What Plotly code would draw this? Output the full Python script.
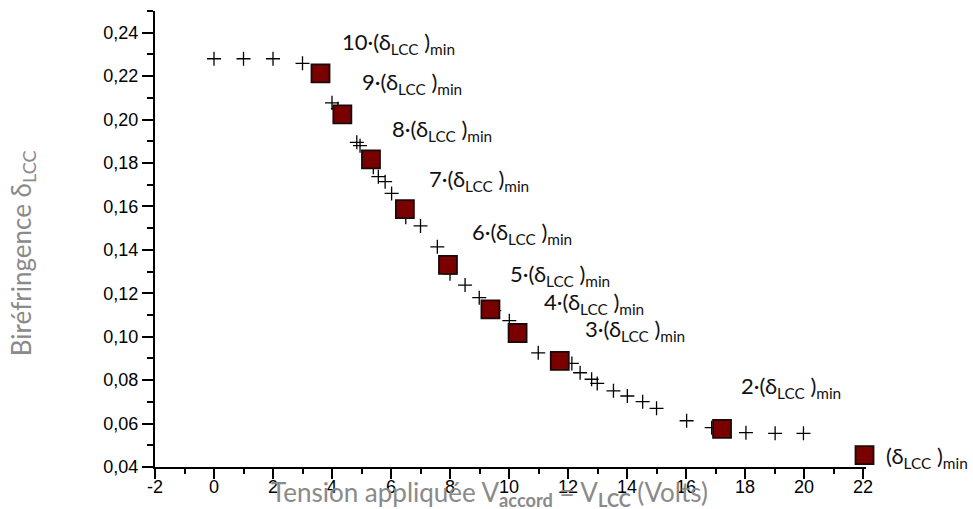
import plotly.graph_objects as go

# Measured birefringence versus applied voltage
v_meas = [0, 1, 2, 3, 4.0, 4.2, 4.84, 4.95, 5.4, 5.57, 5.8, 6.02, 6.5, 7.0, 7.57, 8.0,
          8.51, 8.99, 9.5, 10.01, 10.99, 12.13, 12.41, 12.8, 12.99, 13.54, 14.01,
          14.53, 15.0, 16.02, 16.87, 18.03, 19.02, 19.98]
d_meas = [0.228, 0.228, 0.228, 0.2259, 0.2077, 0.205, 0.1895, 0.188, 0.178, 0.1737,
          0.1714, 0.166, 0.155, 0.151, 0.1414, 0.129, 0.1238, 0.118, 0.112, 0.1074,
          0.0926, 0.0877, 0.0834, 0.0804, 0.0785, 0.0751, 0.0727, 0.0701, 0.067,
          0.0613, 0.0581, 0.0558, 0.0555, 0.0555]

# Tuning points: multiples of the minimal birefringence
v_acc = [3.61, 4.35, 5.32, 6.47, 7.93, 9.37, 10.29, 11.72, 17.22, 22.05]
d_acc = [0.2213, 0.2024, 0.1817, 0.1588, 0.1331, 0.1126, 0.1017, 0.0889, 0.0576, 0.0455]
multiples = ["10·", "9·", "8·", "7·", "6·", "5·", "4·", "3·", "2·", ""]

# Label offsets (px) from each tuning point
label_dx = [19, 18, 19, 22, 22, 18, 24, 23, 17, 19]
label_dy = [30, 31, 29, 29, 32, 34, 30, 31, 42, -2]

x_major = [-2, 0, 2, 4, 6, 8, 10, 12, 14, 16, 18, 20, 22]
x_major_text = ["-2", "0", "2", "4", "6", "8", "10", "12", "14", "16", "18", "20", "22"]
y_major = [0.04, 0.06, 0.08, 0.10, 0.12, 0.14, 0.16, 0.18, 0.20, 0.22, 0.24]
y_major_text = ["0,04", "0,06", "0,08", "0,10", "0,12", "0,14", "0,16", "0,18",
                "0,20", "0,22", "0,24"]

label_font = "Lato"
title_grey = "#8a8a8a"

fig = go.Figure()

fig.add_trace(go.Scatter(
    x=v_meas, y=d_meas, mode="markers",
    marker=dict(symbol="cross-thin", size=10, line=dict(width=1.3, color="black")),
    cliponaxis=False, showlegend=False, hoverinfo="x+y",
))

fig.add_trace(go.Scatter(
    x=v_acc, y=d_acc, mode="markers",
    marker=dict(symbol="square", size=18, color="#7a0000",
                line=dict(width=1.8, color="#1a0a0a")),
    cliponaxis=False, showlegend=False, hoverinfo="x+y",
))

annotations = []
for xv, yv, m, dx, dy in zip(v_acc, d_acc, multiples, label_dx, label_dy):
    annotations.append(dict(
        x=xv, y=yv, xref="x", yref="y",
        text=f"{m}(δ<sub>LCC</sub> )<sub>min</sub>",
        showarrow=False, xanchor="left", yanchor="middle",
        xshift=dx, yshift=dy,
        font=dict(family=label_font, size=22, color="#111111"),
    ))

annotations.append(dict(
    x=0.471, y=-0.058, xref="paper", yref="paper",
    text="Tension appliquée V<sub><b>accord</b></sub> = V<sub><b>LCC</b></sub> (Volts)",
    showarrow=False, xanchor="center", yanchor="middle",
    font=dict(family=label_font, size=26, color=title_grey),
))
annotations.append(dict(
    x=-0.187, y=0.469, xref="paper", yref="paper",
    text="Biréfringence δ<sub>LCC</sub>", textangle=-90,
    showarrow=False, xanchor="center", yanchor="middle",
    font=dict(family=label_font, size=26, color=title_grey),
))

axis_common = dict(
    showgrid=False, zeroline=False, showline=True, linecolor="black", linewidth=2,
    ticks="outside", tickcolor="black", tickwidth=2, automargin=False,
    tickfont=dict(family="Liberation Sans", size=18, color="black"),
)

fig.update_layout(
    width=973, height=509,
    margin=dict(l=155, r=107, t=11, b=42),
    plot_bgcolor="white", paper_bgcolor="white",
    annotations=annotations,
    xaxis=dict(range=[-2, 22.1], tickvals=x_major, ticktext=x_major_text, ticklen=10,
               ticklabelstandoff=-8,
               minor=dict(dtick=1, tick0=-2, ticks="outside", ticklen=5,
                          tickwidth=2, tickcolor="black"),
               **axis_common),
    yaxis=dict(range=[0.04, 0.25], tickvals=y_major, ticktext=y_major_text, ticklen=11,
               minor=dict(dtick=0.01, tick0=0.04, ticks="outside", ticklen=6,
                          tickwidth=2, tickcolor="black"),
               **axis_common),
)

fig.write_html("out.html")
